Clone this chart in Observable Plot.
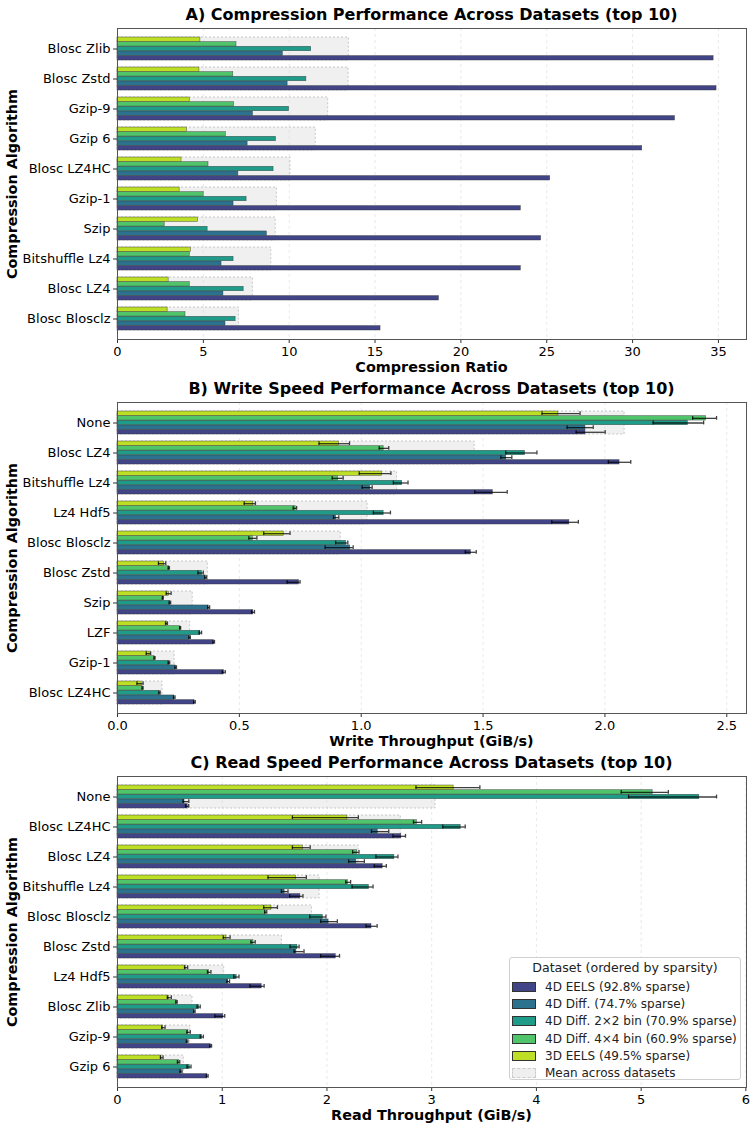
<!DOCTYPE html>
<html><head><meta charset="utf-8">
<script src="https://cdn.jsdelivr.net/npm/d3@7"></script>
<script src="https://cdn.jsdelivr.net/npm/@observablehq/plot@0.6"></script>
<style>
body{margin:0;background:#fff;font-family:"DejaVu Sans",sans-serif;}
#root{position:relative;width:753px;height:1130px;overflow:hidden;background:#fff}
#root svg{position:absolute;left:0}
.title{position:absolute;font-weight:bold;font-size:16px;white-space:nowrap;transform:translate(-50%,-50%);color:#000}
.xlabel{position:absolute;font-weight:bold;font-size:14.4px;white-space:nowrap;transform:translate(-50%,-50%);color:#000}
.ylabel{position:absolute;font-weight:bold;font-size:14.4px;white-space:nowrap;transform:translate(-50%,-50%) rotate(-90deg);color:#000}
.legend{position:absolute;left:509px;top:957px;width:232px;height:123px;border:1px solid #d0d0d0;border-radius:3px;background:rgba(255,255,255,0.85);font-size:12px;color:#222;z-index:5;box-sizing:border-box}
.legend .lt{position:absolute;left:0;right:0;top:2px;text-align:center;font-size:12.6px}
.legend .row{position:absolute;left:2px;height:17px;display:flex;align-items:center;white-space:nowrap}
.legend .sw{width:24px;height:10px;margin-right:9px;box-sizing:border-box;border:1px solid #333}
</style></head>
<body><div id="root"></div>
<script>
// ---------- data ----------
const datasets = ["4D EELS (92.8% sparse)", "4D Diff. (74.7% sparse)", "4D Diff. 2×2 bin (70.9% sparse)", "4D Diff. 4×4 bin (60.9% sparse)", "3D EELS (49.5% sparse)"];

// A) compression ratio
const algosA = ["Blosc Zlib","Blosc Zstd","Gzip-9","Gzip 6","Blosc LZ4HC","Gzip-1","Szip","Bitshuffle Lz4","Blosc LZ4","Blosc Blosclz"];
const ratioEels4d = [34.72, 34.89, 32.47, 30.56, 25.20, 23.49, 24.67, 23.49, 18.72, 15.32];
const ratioDiff4d = [9.63, 9.91, 7.89, 7.58, 7.04, 6.76, 8.70, 6.06, 6.17, 6.29];
const ratioBin2   = [11.28, 11.00, 9.99, 9.23, 9.09, 7.52, 5.25, 6.76, 7.35, 6.88];
const ratioBin4   = [6.93, 6.74, 6.79, 6.31, 5.30, 5.02, 2.75, 4.21, 4.21, 3.96];
const ratioEels3d = [4.83, 4.77, 4.21, 4.04, 3.73, 3.62, 4.69, 4.27, 2.98, 2.92];

// B) write throughput (GiB/s) with error bar ends
const algosB = ["None","Blosc LZ4","Bitshuffle Lz4","Lz4 Hdf5","Blosc Blosclz","Blosc Zstd","Szip","LZF","Gzip-1","Blosc LZ4HC"];
const writeEels4d   = [1.920, 2.060, 1.540, 1.854, 1.450, 0.745, 0.557, 0.395, 0.437, 0.316];
const writeEels4dLo = [1.882, 2.014, 1.466, 1.782, 1.427, 0.696, 0.550, 0.392, 0.430, 0.313];
const writeEels4dHi = [2.001, 2.106, 1.599, 1.891, 1.472, 0.749, 0.562, 0.398, 0.442, 0.319];
const writeDiff4d   = [1.920, 1.595, 1.037, 0.897, 0.955, 0.362, 0.374, 0.296, 0.239, 0.233];
const writeDiff4dLo = [1.845, 1.573, 1.004, 0.886, 0.852, 0.358, 0.370, 0.293, 0.236, 0.230];
const writeDiff4dHi = [1.952, 1.618, 1.045, 0.908, 0.967, 0.366, 0.378, 0.299, 0.242, 0.236];
const writeBin2     = [2.340, 1.672, 1.168, 1.092, 0.938, 0.346, 0.215, 0.340, 0.211, 0.172];
const writeBin2Lo   = [2.198, 1.593, 1.132, 1.050, 0.895, 0.330, 0.212, 0.335, 0.208, 0.170];
const writeBin2Hi   = [2.405, 1.721, 1.192, 1.120, 0.945, 0.352, 0.218, 0.345, 0.214, 0.175];
const writeBin4     = [2.415, 1.092, 0.905, 0.731, 0.555, 0.211, 0.186, 0.257, 0.152, 0.103];
const writeBin4Lo   = [2.360, 1.074, 0.881, 0.721, 0.539, 0.208, 0.184, 0.255, 0.150, 0.101];
const writeBin4Hi   = [2.458, 1.113, 0.926, 0.735, 0.572, 0.213, 0.188, 0.259, 0.154, 0.105];
const writeEels3d   = [1.809, 0.909, 1.085, 0.557, 0.682, 0.190, 0.211, 0.202, 0.132, 0.099];
const writeEels3dLo = [1.742, 0.827, 0.992, 0.520, 0.600, 0.168, 0.200, 0.197, 0.118, 0.080];
const writeEels3dHi = [1.898, 0.952, 1.122, 0.566, 0.708, 0.198, 0.220, 0.205, 0.136, 0.105];

// C) read throughput (GiB/s) with error bar ends
const algosC = ["None","Blosc LZ4HC","Blosc LZ4","Bitshuffle Lz4","Blosc Blosclz","Blosc Zstd","Lz4 Hdf5","Blosc Zlib","Gzip-9","Gzip 6"];
const readEels4d   = [0.670, 2.710, 2.532, 1.746, 2.425, 2.084, 1.377, 1.010, 0.890, 0.858];
const readEels4dLo = [0.650, 2.630, 2.452, 1.644, 2.374, 1.940, 1.265, 0.930, 0.882, 0.849];
const readEels4dHi = [0.680, 2.750, 2.567, 1.771, 2.479, 2.120, 1.400, 1.024, 0.898, 0.865];
const readDiff4d   = [0.640, 2.485, 2.280, 1.596, 2.016, 1.708, 1.055, 0.734, 0.664, 0.610];
const readDiff4dLo = [0.626, 2.425, 2.207, 1.565, 1.940, 1.686, 1.045, 0.728, 0.658, 0.597];
const readDiff4dHi = [0.681, 2.590, 2.357, 1.628, 2.099, 1.781, 1.070, 0.741, 0.672, 0.616];
const readBin2     = [5.555, 3.277, 2.643, 2.400, 1.960, 1.718, 1.138, 0.779, 0.807, 0.690];
const readBin2Lo   = [4.880, 3.106, 2.468, 2.240, 1.836, 1.648, 1.110, 0.760, 0.790, 0.664];
const readBin2Hi   = [5.720, 3.320, 2.678, 2.440, 1.990, 1.734, 1.160, 0.790, 0.820, 0.702];
const readBin4     = [5.110, 2.858, 2.287, 2.200, 1.415, 1.298, 0.874, 0.565, 0.677, 0.587];
const readBin4Lo   = [4.810, 2.826, 2.245, 2.180, 1.405, 1.274, 0.859, 0.557, 0.663, 0.572];
const readBin4Hi   = [5.260, 2.904, 2.306, 2.226, 1.425, 1.315, 0.892, 0.570, 0.695, 0.594];
const readEels3d   = [3.210, 2.195, 1.770, 1.705, 1.470, 1.040, 0.651, 0.492, 0.435, 0.419];
const readEels3dLo = [2.850, 1.670, 1.670, 1.437, 1.396, 1.010, 0.640, 0.476, 0.422, 0.410];
const readEels3dHi = [3.460, 2.300, 1.840, 1.803, 1.527, 1.075, 0.670, 0.514, 0.454, 0.435];

const ticksA = [0,5,10,15,20,25,30,35];
const ticksB = [0,0.5,1,1.5,2,2.5];
const ticksC = [0,1,2,3,4,5,6];

// ---------- style ----------
const colors = [0.2,0.375,0.55,0.725,0.9].map(t => d3.interpolateViridis(t));
const root = document.getElementById("root");
const W = 753, ML = 117, MR = 7, MT = 2, MB = 24, H = 311, PAD = 0.235;

function panel({algos, vals, los, his, ticks, fmt, plotTop, title, xlabel}) {
  const rows = [];
  algos.forEach((a, i) => datasets.forEach((d, j) => rows.push({
    algo: a, j, v: vals[j][i],
    lo: los ? los[j][i] : null, hi: his ? his[j][i] : null
  })));
  const means = algos.map((a, i) => ({algo: a, v: d3.mean(vals, s => s[i])}));
  const maxX = d3.max(rows, r => Math.max(r.v, r.hi ?? 0)) * 1.05;
  const step = H / (algos.length + PAD), bw = step * (1 - PAD), bh = bw / datasets.length;
  const slot = j => datasets.length - 1 - j; // 3D EELS on top, 4D EELS at bottom

  const marks = [
    Plot.gridX(ticks, {stroke: "#b0b0b0", strokeOpacity: 0.35, strokeDasharray: "3,3", strokeWidth: 0.8}),
    Plot.barX(means, {y: "algo", x: "v", fill: "#d9d9d9", fillOpacity: 0.4, stroke: "#bbb", strokeDasharray: "2,2", strokeWidth: 0.8})
  ];
  datasets.forEach((d, j) => {
    const s = slot(j);
    marks.push(Plot.barX(rows.filter(r => r.j === j), {
      y: "algo", x: "v", fill: colors[j],
      insetTop: s * bh, insetBottom: bw - (s + 1) * bh,
      stroke: "#333", strokeWidth: 0.6, strokeOpacity: 0.7
    }));
  });
  if (los) {
    datasets.forEach((d, j) => {
      const s = slot(j);
      const data = rows.filter(r => r.j === j);
      const dy = -bw / 2 + (s + 0.5) * bh;
      const eb = {stroke: "#000", strokeOpacity: 0.75, strokeWidth: 1.3};
      marks.push(Plot.ruleY(data, {y: "algo", x1: "lo", x2: "hi", dy, ...eb}));
      const cap = {insetTop: s * bh + 0.3, insetBottom: bw - (s + 1) * bh + 0.3, ...eb};
      marks.push(Plot.tickX(data, {y: "algo", x: "lo", ...cap}));
      marks.push(Plot.tickX(data, {y: "algo", x: "hi", ...cap}));
    });
  }
  marks.push(Plot.axisX({ticks, tickFormat: fmt, tickSize: 4, tickPadding: 3, label: null, stroke: "#333"}));
  marks.push(Plot.axisY({tickSize: 4, tickPadding: 3, label: null, stroke: "#333"}));
  marks.push(Plot.frame({stroke: "#555", strokeWidth: 1}));

  const svg = Plot.plot({
    width: W, height: MT + H + MB,
    marginLeft: ML, marginRight: MR, marginTop: MT, marginBottom: MB,
    style: {fontSize: "13px", fontFamily: "DejaVu Sans", color: "#000", background: "transparent", overflow: "visible"},
    x: {domain: [0, maxX]},
    y: {domain: algos, padding: PAD},
    marks
  });
  svg.style.top = (plotTop - MT) + "px";
  root.appendChild(svg);

  const cx = ML + (W - ML - MR) / 2;
  const t = document.createElement("div");
  t.className = "title"; t.textContent = title;
  t.style.left = cx + "px"; t.style.top = (plotTop - 14) + "px";
  root.appendChild(t);
  const xl = document.createElement("div");
  xl.className = "xlabel"; xl.textContent = xlabel;
  xl.style.left = cx + "px"; xl.style.top = (plotTop + H + 28) + "px";
  root.appendChild(xl);
  const yl = document.createElement("div");
  yl.className = "ylabel"; yl.textContent = "Compression Algorithm";
  yl.style.left = "12px"; yl.style.top = (plotTop + H / 2) + "px";
  root.appendChild(yl);
}

panel({
  algos: algosA,
  vals: [ratioEels4d, ratioDiff4d, ratioBin2, ratioBin4, ratioEels3d],
  ticks: ticksA, fmt: d3.format("d"), plotTop: 28,
  title: "A) Compression Performance Across Datasets (top 10)", xlabel: "Compression Ratio"
});
panel({
  algos: algosB,
  vals: [writeEels4d, writeDiff4d, writeBin2, writeBin4, writeEels3d],
  los: [writeEels4dLo, writeDiff4dLo, writeBin2Lo, writeBin4Lo, writeEels3dLo],
  his: [writeEels4dHi, writeDiff4dHi, writeBin2Hi, writeBin4Hi, writeEels3dHi],
  ticks: ticksB, fmt: d3.format(".1f"), plotTop: 402,
  title: "B) Write Speed Performance Across Datasets (top 10)", xlabel: "Write Throughput (GiB/s)"
});
panel({
  algos: algosC,
  vals: [readEels4d, readDiff4d, readBin2, readBin4, readEels3d],
  los: [readEels4dLo, readDiff4dLo, readBin2Lo, readBin4Lo, readEels3dLo],
  his: [readEels4dHi, readDiff4dHi, readBin2Hi, readBin4Hi, readEels3dHi],
  ticks: ticksC, fmt: d3.format("d"), plotTop: 776,
  title: "C) Read Speed Performance Across Datasets (top 10)", xlabel: "Read Throughput (GiB/s)"
});

// legend
const lg = document.createElement("div");
lg.className = "legend";
lg.innerHTML = `<div class="lt">Dataset (ordered by sparsity)</div>`;
const entries = datasets.map((d, j) => ({label: d, color: colors[j]})).concat([{label: "Mean across datasets", color: null}]);
entries.forEach((e, k) => {
  const r = document.createElement("div");
  r.className = "row";
  r.style.top = (20.5 + k * 17.2) + "px";
  const sw = document.createElement("div");
  sw.className = "sw";
  if (e.color) { sw.style.background = e.color; }
  else { sw.style.background = "#efefef"; sw.style.border = "1px dashed #ccc"; }
  r.appendChild(sw);
  const tx = document.createElement("span");
  tx.textContent = e.label;
  r.appendChild(tx);
  lg.appendChild(r);
});
root.appendChild(lg);
</script>
</body></html>
